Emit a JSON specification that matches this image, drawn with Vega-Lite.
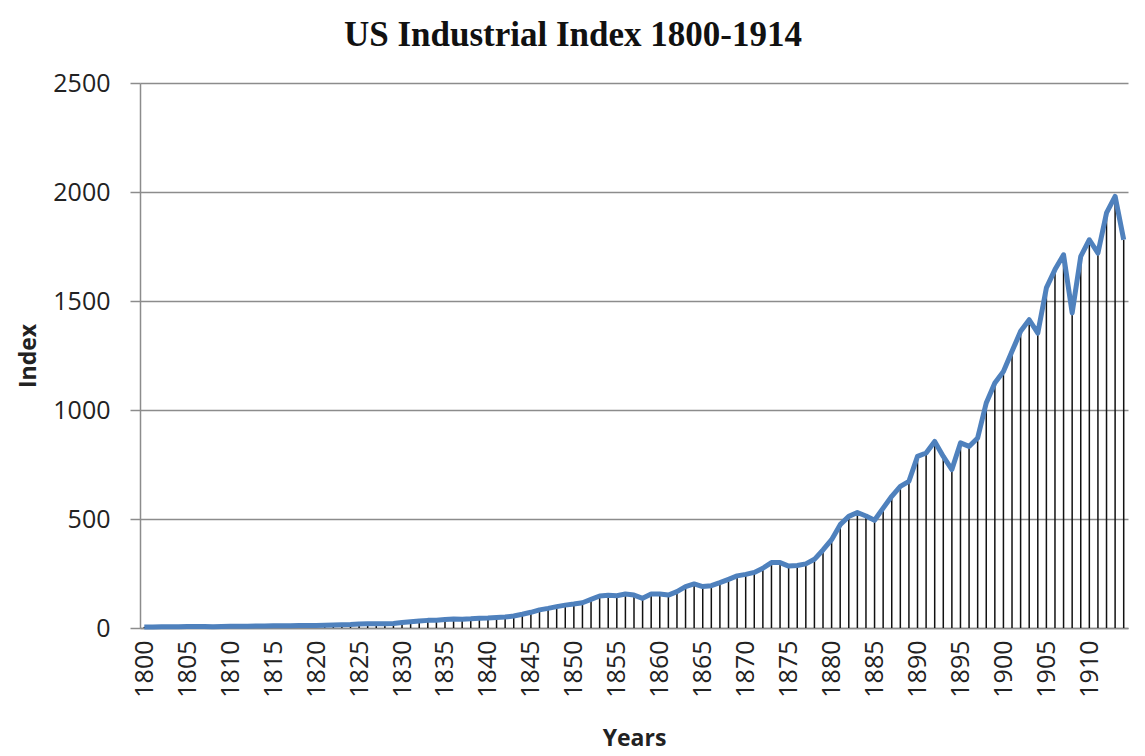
{
  "$schema": "https://vega.github.io/schema/vega-lite/v6.json",
  "autosize": {"type": "none"},
  "width": 988,
  "height": 545,
  "padding": {"left": 140, "top": 83, "right": 17, "bottom": 128},
  "background": "white",
  "title": {
    "text": "US Industrial Index 1800-1914",
    "font": "Liberation Serif",
    "fontSize": 35,
    "fontWeight": "bold",
    "color": "#111111",
    "anchor": "middle",
    "frame": "bounds",
    "offset": 18
  },
  "data": {
    "values": [
      {"year": 1800, "index": 5}, {"year": 1801, "index": 5}, {"year": 1802, "index": 6}, {"year": 1803, "index": 6}, {"year": 1804, "index": 6},
      {"year": 1805, "index": 7}, {"year": 1806, "index": 7}, {"year": 1807, "index": 7}, {"year": 1808, "index": 6}, {"year": 1809, "index": 7},
      {"year": 1810, "index": 8}, {"year": 1811, "index": 8}, {"year": 1812, "index": 8}, {"year": 1813, "index": 9}, {"year": 1814, "index": 9},
      {"year": 1815, "index": 10}, {"year": 1816, "index": 10}, {"year": 1817, "index": 10}, {"year": 1818, "index": 11}, {"year": 1819, "index": 11},
      {"year": 1820, "index": 12}, {"year": 1821, "index": 13}, {"year": 1822, "index": 14}, {"year": 1823, "index": 15}, {"year": 1824, "index": 16},
      {"year": 1825, "index": 18}, {"year": 1826, "index": 19}, {"year": 1827, "index": 19}, {"year": 1828, "index": 20}, {"year": 1829, "index": 21},
      {"year": 1830, "index": 25}, {"year": 1831, "index": 29}, {"year": 1832, "index": 32}, {"year": 1833, "index": 35}, {"year": 1834, "index": 36},
      {"year": 1835, "index": 39}, {"year": 1836, "index": 41}, {"year": 1837, "index": 40}, {"year": 1838, "index": 42}, {"year": 1839, "index": 45},
      {"year": 1840, "index": 46}, {"year": 1841, "index": 48}, {"year": 1842, "index": 50}, {"year": 1843, "index": 55}, {"year": 1844, "index": 63},
      {"year": 1845, "index": 72}, {"year": 1846, "index": 83}, {"year": 1847, "index": 90}, {"year": 1848, "index": 98}, {"year": 1849, "index": 105},
      {"year": 1850, "index": 110}, {"year": 1851, "index": 116}, {"year": 1852, "index": 131}, {"year": 1853, "index": 147}, {"year": 1854, "index": 150},
      {"year": 1855, "index": 148}, {"year": 1856, "index": 156}, {"year": 1857, "index": 151}, {"year": 1858, "index": 136}, {"year": 1859, "index": 156},
      {"year": 1860, "index": 156}, {"year": 1861, "index": 151}, {"year": 1862, "index": 167}, {"year": 1863, "index": 190}, {"year": 1864, "index": 202},
      {"year": 1865, "index": 190}, {"year": 1866, "index": 194}, {"year": 1867, "index": 208}, {"year": 1868, "index": 223}, {"year": 1869, "index": 239},
      {"year": 1870, "index": 246}, {"year": 1871, "index": 255}, {"year": 1872, "index": 274}, {"year": 1873, "index": 300}, {"year": 1874, "index": 300},
      {"year": 1875, "index": 284}, {"year": 1876, "index": 287}, {"year": 1877, "index": 294}, {"year": 1878, "index": 315}, {"year": 1879, "index": 358},
      {"year": 1880, "index": 405}, {"year": 1881, "index": 474}, {"year": 1882, "index": 512}, {"year": 1883, "index": 530}, {"year": 1884, "index": 514},
      {"year": 1885, "index": 494}, {"year": 1886, "index": 550}, {"year": 1887, "index": 604}, {"year": 1888, "index": 650}, {"year": 1889, "index": 673},
      {"year": 1890, "index": 787}, {"year": 1891, "index": 803}, {"year": 1892, "index": 856}, {"year": 1893, "index": 787}, {"year": 1894, "index": 727},
      {"year": 1895, "index": 849}, {"year": 1896, "index": 833}, {"year": 1897, "index": 872}, {"year": 1898, "index": 1032}, {"year": 1899, "index": 1124},
      {"year": 1900, "index": 1177}, {"year": 1901, "index": 1269}, {"year": 1902, "index": 1361}, {"year": 1903, "index": 1414}, {"year": 1904, "index": 1353},
      {"year": 1905, "index": 1560}, {"year": 1906, "index": 1644}, {"year": 1907, "index": 1712}, {"year": 1908, "index": 1445}, {"year": 1909, "index": 1705},
      {"year": 1910, "index": 1781}, {"year": 1911, "index": 1720}, {"year": 1912, "index": 1904}, {"year": 1913, "index": 1980}, {"year": 1914, "index": 1781}
    ]
  },
  "encoding": {
    "x": {
      "field": "year",
      "type": "ordinal",
      "scale": {"type": "point", "padding": 0.5},
      "axis": {
        "title": "Years",
        "titleFont": "Open Sans",
        "titleFontSize": 23,
        "titleFontWeight": "bold",
        "titleColor": "#222222",
        "titlePadding": 30,
        "values": [1800, 1805, 1810, 1815, 1820, 1825, 1830, 1835, 1840, 1845, 1850, 1855, 1860, 1865, 1870, 1875, 1880, 1885, 1890, 1895, 1900, 1905, 1910],
        "labelAngle": -90,
        "labelFont": "Open Sans",
        "labelFontSize": 25,
        "labelColor": "#222222",
        "labelPadding": 12,
        "ticks": false,
        "domainColor": "#8c8c8c",
        "domainWidth": 1.5,
        "grid": false
      }
    },
    "y": {
      "field": "index",
      "type": "quantitative",
      "scale": {"domain": [0, 2500], "nice": false},
      "axis": {
        "title": "Index",
        "titleFont": "Open Sans",
        "titleFontSize": 23,
        "titleFontWeight": "bold",
        "titleColor": "#222222",
        "titlePadding": 12,
        "values": [0, 500, 1000, 1500, 2000, 2500],
        "format": "d",
        "labelFont": "Open Sans",
        "labelFontSize": 25,
        "labelColor": "#222222",
        "labelPadding": 20,
        "tickSize": 10,
        "tickColor": "#8c8c8c",
        "tickWidth": 1.5,
        "domainColor": "#8c8c8c",
        "domainWidth": 1.5,
        "gridColor": "#8c8c8c",
        "gridWidth": 1.5
      }
    }
  },
  "layer": [
    {
      "mark": {"type": "rule", "color": "#111111", "strokeWidth": 1.5},
      "encoding": {"y2": {"datum": 0}}
    },
    {
      "mark": {"type": "line", "color": "#4F81BD", "strokeWidth": 5, "strokeJoin": "round"}
    }
  ],
  "config": {"view": {"stroke": null}}
}
